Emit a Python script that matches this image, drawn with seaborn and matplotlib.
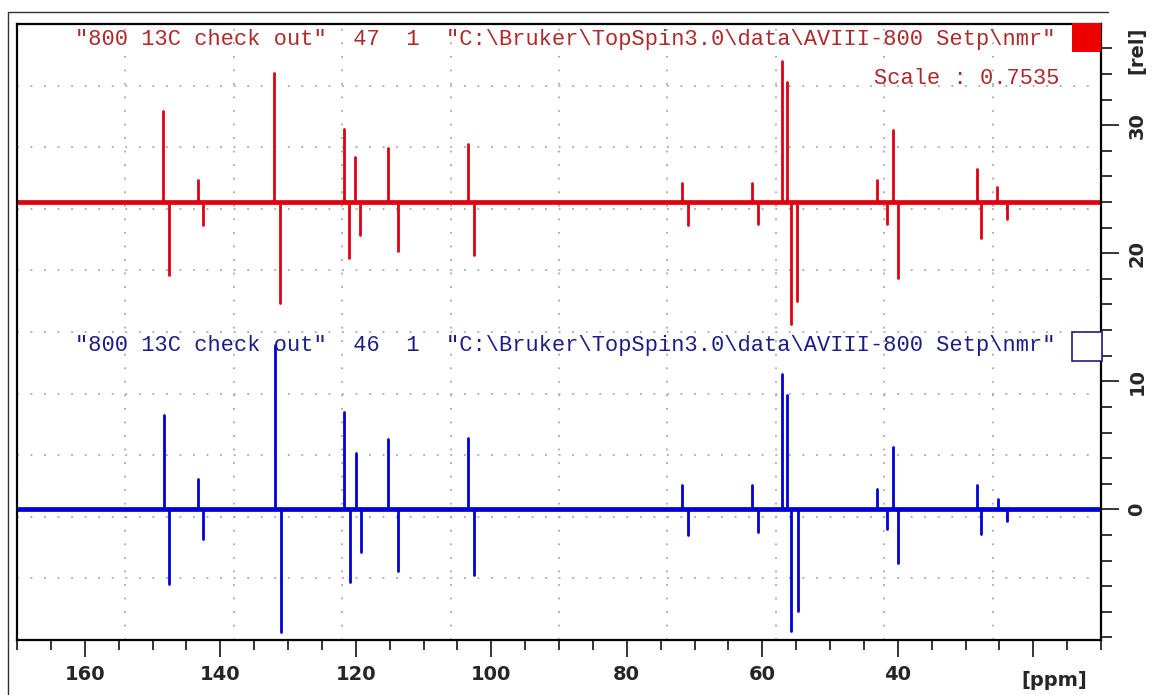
import numpy as np
import pandas as pd
import matplotlib
matplotlib.use("Agg")
import matplotlib.pyplot as plt
from matplotlib.ticker import FixedLocator, MultipleLocator, FuncFormatter
from matplotlib.patches import Rectangle
from matplotlib.lines import Line2D
import seaborn as sns

# ---------------- data ----------------
red_pos_ppm = [148.4, 143.3, 132.0, 121.8, 120.1, 115.3, 103.4, 71.8, 61.5, 57.15, 56.3, 43.1, 40.7, 28.3, 25.3]
red_pos_h = [7.1, 1.7, 10.1, 5.7, 3.5, 4.2, 4.5, 1.5, 1.5, 11.0, 9.4, 1.7, 5.6, 2.6, 1.2]
red_neg_ppm = [147.55, 142.6, 131.15, 121.05, 119.3, 113.8, 102.6, 71.0, 60.7, 55.7, 54.8, 41.6, 39.9, 27.75, 23.9]
red_neg_h = [-5.7, -1.8, -7.9, -4.4, -2.6, -3.8, -4.1, -1.8, -1.7, -9.5, -7.7, -1.7, -5.9, -2.8, -1.3]

blue_pos_ppm = [148.3, 143.3, 131.9, 121.8, 120.0, 115.3, 103.4, 71.8, 61.5, 57.05, 56.3, 43.1, 40.65, 28.3, 25.2]
blue_pos_h = [7.4, 2.4, 12.8, 7.6, 4.4, 5.5, 5.6, 1.9, 1.9, 10.6, 8.9, 1.6, 4.9, 1.9, 0.8]
blue_neg_ppm = [147.5, 142.6, 131.1, 120.9, 119.2, 113.8, 102.5, 70.9, 60.7, 55.7, 54.7, 41.6, 39.9, 27.75, 23.9]
blue_neg_h = [-5.8, -2.3, -9.6, -5.7, -3.3, -4.8, -5.1, -2.0, -1.8, -9.5, -7.9, -1.5, -4.2, -1.95, -0.9]

red_offset = 24.0
blue_offset = 0.0

x_major = [160, 140, 120, 100, 80, 60, 40, 20]
x_labels = ["160", "140", "120", "100", "80", "60", "40", ""]
y_major = [0, 10, 20, 30]
y_labels = ["0", "10", "20", "30"]

red_title = '"800 13C check out"  47  1  "C:\\Bruker\\TopSpin3.0\\data\\AVIII-800 Setp\\nmr"'
blue_title = '"800 13C check out"  46  1  "C:\\Bruker\\TopSpin3.0\\data\\AVIII-800 Setp\\nmr"'
scale_text = "Scale : 0.7535"

RED = "#e00010"
BLUE = "#0000d8"
RED_TXT = "#b02828"
BLUE_TXT = "#1c1c86"

# ---------------- build long-form stick table ----------------
rows = []
uid = 0
for series, off, pp, ph, np_, nh in [
    ("red", red_offset, red_pos_ppm, red_pos_h, red_neg_ppm, red_neg_h),
    ("blue", blue_offset, blue_pos_ppm, blue_pos_h, blue_neg_ppm, blue_neg_h),
]:
    for p, h in list(zip(pp, ph)) + list(zip(np_, nh)):
        rows.append(dict(series=series, uid=uid, ppm=p, y=off))
        rows.append(dict(series=series, uid=uid, ppm=p, y=off + h))
        uid += 1
df = pd.DataFrame(rows)

# ---------------- figure ----------------
sns.set_style("white")
plt.rcParams["font.family"] = ["DejaVu Sans"]

W, H = 1153, 695
fig = plt.figure(figsize=(W / 100, H / 100), dpi=100)
L, R, T, B = 17, 1101, 24, 640
ax = fig.add_axes([L / W, 1 - B / H, (R - L) / W, (B - T) / H])

ax.set_xlim(170, 10)
ax.set_ylim(-10.2, 37.9)

# grid: 10 equal divisions of the frame, dotted grey
for i in range(1, 10):
    f = i / 10
    ax.plot([f, f], [0, 1], transform=ax.transAxes, color="#a8a8a8",
            lw=1.3, ls=(0, (1.0, 6.5)), zorder=0)
    ax.plot([0, 1], [f, f], transform=ax.transAxes, color="#a8a8a8",
            lw=1.3, ls=(0, (1.0, 6.5)), zorder=0)

# baselines
ax.axhline(red_offset, color=RED, lw=3.4, zorder=2)
ax.axhline(blue_offset, color=BLUE, lw=3.4, zorder=2)

# sticks via seaborn
sns.lineplot(data=df, x="ppm", y="y", units="uid", estimator=None,
             hue="series", palette={"red": RED, "blue": BLUE},
             sort=False, legend=False, lw=2.0, ax=ax, zorder=3)
ax.set_xlabel("")
ax.set_ylabel("")

# spines
for s in ax.spines.values():
    s.set_visible(True)
    s.set_color("black")
    s.set_linewidth(1.6)

# x ticks
ax.xaxis.set_major_locator(FixedLocator(x_major))
ax.xaxis.set_major_formatter(FuncFormatter(lambda v, pos: x_labels[x_major.index(int(round(v)))] if int(round(v)) in x_major else ""))
ax.xaxis.set_minor_locator(MultipleLocator(5))
ax.tick_params(axis="x", which="major", direction="out", length=12, width=1.3,
               pad=6, labelsize=14, bottom=True, top=False)
ax.tick_params(axis="x", which="minor", direction="out", length=7, width=1.3,
               bottom=True, top=False)

# y ticks on the right
ax.yaxis.tick_right()
ax.yaxis.set_major_locator(FixedLocator(y_major))
ax.yaxis.set_major_formatter(FuncFormatter(lambda v, pos: y_labels[y_major.index(int(round(v)))] if int(round(v)) in y_major else ""))
ax.yaxis.set_minor_locator(MultipleLocator(2))
ax.tick_params(axis="y", which="major", direction="out", length=13, width=1.3,
               pad=6, labelsize=14, right=True, left=False)
ax.tick_params(axis="y", which="minor", direction="out", length=8, width=1.3,
               right=True, left=False)
for lab in ax.get_xticklabels():
    lab.set_fontweight("bold")
for lab in ax.get_yticklabels():
    lab.set_fontweight("bold")
    lab.set_rotation(90)
    lab.set_va("center")
    lab.set_ha("left")

# axis unit labels
fig.text(1054 / W, 1 - 680 / H, "[ppm]", ha="center", va="center",
         fontsize=14, fontweight="bold")
fig.text(1137 / W, 1 - 50 / H, "[rel]", ha="center", va="center",
         fontsize=14, fontweight="bold", rotation=90)

# titles
mono = ["Liberation Mono", "DejaVu Sans Mono"]
fig.text(75 / W, 1 - 39 / H, red_title, ha="left", va="center",
         fontsize=15.8, family=mono, color=RED_TXT)
fig.text(75 / W, 1 - 346 / H, blue_title, ha="left", va="center",
         fontsize=15.8, family=mono, color=BLUE_TXT)
fig.text(1060 / W, 1 - 79 / H, scale_text, ha="right", va="center",
         fontsize=15.8, family=mono, color=RED_TXT)

# legend boxes
fig.add_artist(Rectangle((1072 / W, 1 - 52 / H), 29 / W, 29 / H,
                         transform=fig.transFigure, facecolor="#ee0000",
                         edgecolor="none", zorder=5))
fig.add_artist(Rectangle((1072 / W, 1 - 361 / H), 30 / W, 29 / H,
                         transform=fig.transFigure, facecolor="white",
                         edgecolor=BLUE_TXT, lw=1.2, zorder=5))

# screenshot window border
fig.add_artist(Line2D([8 / W, 8 / W], [0, 1 - 12 / H], transform=fig.transFigure,
                      color="#333333", lw=1.0))
fig.add_artist(Line2D([8 / W, 1108 / W], [1 - 12 / H, 1 - 12 / H],
                      transform=fig.transFigure, color="#333333", lw=1.0))

fig.savefig("out.png", dpi=100)
